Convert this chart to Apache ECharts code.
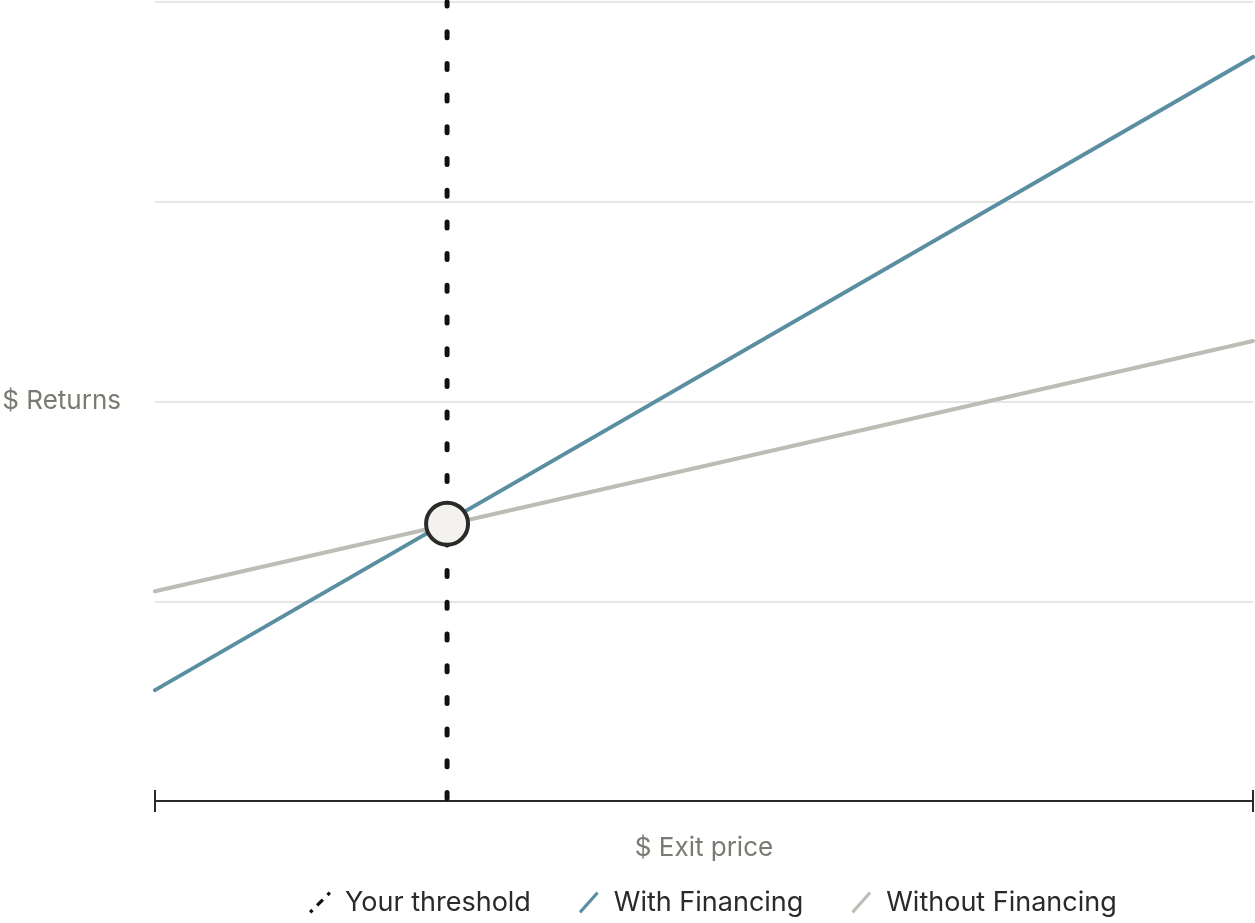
<!DOCTYPE html>
<html>
<head>
<meta charset="utf-8">
<script src="https://cdn.jsdelivr.net/npm/echarts@6/dist/echarts.min.js"></script>
<style>
  html, body { margin: 0; padding: 0; background: #fff; }
  #main { width: 1255px; height: 923px; }
</style>
</head>
<body>
<div id="main"></div>
<script>
// exit price runs 0..10, returns 0..4 (no labels shown)
var exitPrice = [0, 10];
var withFinancing = [0.555, 3.725];
var withoutFinancing = [1.05, 2.303];
var threshold = 2.66;
var thresholdReturn = 1.388;

var chart = echarts.init(document.getElementById('main'));

// slanted legend glyphs
var slash = 'path://M0,18 L16,0 L18,2 L2,20 Z';
var dotted = 'path://M0,19 L2,17 L4,19 L2,21 Z M6,13 L11,8 L13,10 L8,15 Z M15,4 L17,2 L19,4 L17,6 Z';

var option = {
  backgroundColor: '#ffffff',
  textStyle: { fontFamily: 'Inter' },
  grid: { left: 155, right: 2, top: 2, bottom: 122, outerBoundsMode: 'none', containLabel: false },
  legend: {
    bottom: 2,
    left: 304,
    itemWidth: 22,
    itemHeight: 22,
    itemGap: 48,
    textStyle: { fontSize: 27, color: '#2a2a2a', fontFamily: 'Inter', padding: [0, 0, 0, 9] },
    data: [
      { name: 'Your threshold', icon: dotted, itemStyle: { color: '#111' } },
      { name: 'With Financing', icon: slash, itemStyle: { color: '#5a8ea1' } },
      { name: 'Without Financing', icon: slash, itemStyle: { color: '#bdbcb5' } }
    ]
  },
  xAxis: [
    {
      type: 'value',
      min: 0, max: 10, interval: 10,
      name: '$ Exit price',
      nameLocation: 'middle',
      nameGap: 34,
      nameTextStyle: { fontSize: 26, color: '#7b7a72' },
      axisLine: { show: true, lineStyle: { color: '#2a2a2a', width: 2 } },
      axisTick: { show: true, length: 11, lineStyle: { color: '#2a2a2a', width: 2 } },
      axisLabel: { show: false },
      splitLine: { show: false }
    },
    {
      type: 'value',
      position: 'bottom',
      min: 0, max: 10, interval: 10,
      axisLine: { show: false },
      axisTick: { show: true, inside: true, length: 11, lineStyle: { color: '#2a2a2a', width: 2 } },
      axisLabel: { show: false },
      splitLine: { show: false }
    }
  ],
  yAxis: {
    type: 'value',
    min: 0, max: 4, interval: 1,
    name: '$ Returns',
    nameLocation: 'middle',
    nameRotate: 0,
    nameGap: 34,
    nameTextStyle: { fontSize: 26, color: '#7b7a72' },
    axisLine: { show: false },
    axisTick: { show: false },
    axisLabel: { show: false },
    splitLine: { lineStyle: { color: '#e6e6e6', width: 2 } }
  },
  series: [
    {
      name: 'Without Financing',
      type: 'line',
      data: [[exitPrice[0], withoutFinancing[0]], [exitPrice[1], withoutFinancing[1]]],
      symbol: 'none',
      lineStyle: { color: '#bdbcb5', width: 4, cap: 'round' },
      itemStyle: { color: '#bdbcb5' },
      z: 2
    },
    {
      name: 'With Financing',
      type: 'line',
      data: [[exitPrice[0], withFinancing[0]], [exitPrice[1], withFinancing[1]]],
      symbol: 'none',
      lineStyle: { color: '#5a8ea1', width: 4, cap: 'round' },
      itemStyle: { color: '#5a8ea1' },
      z: 3
    },
    {
      name: 'Your threshold',
      type: 'line',
      data: [[threshold, 4], [threshold, 0]],
      symbol: 'none',
      lineStyle: { color: '#111', width: 5, type: [6, 25.7], dashOffset: 2, cap: 'round' },
      itemStyle: { color: '#111' },
      z: 4
    },
    {
      name: 'point',
      type: 'scatter',
      data: [[threshold, thresholdReturn]],
      symbolSize: 42,
      itemStyle: { color: '#f3f2ef', borderColor: '#2a2a2a', borderWidth: 4, opacity: 1 },
      z: 5
    }
  ]
};

chart.setOption(option);
</script>
</body>
</html>
